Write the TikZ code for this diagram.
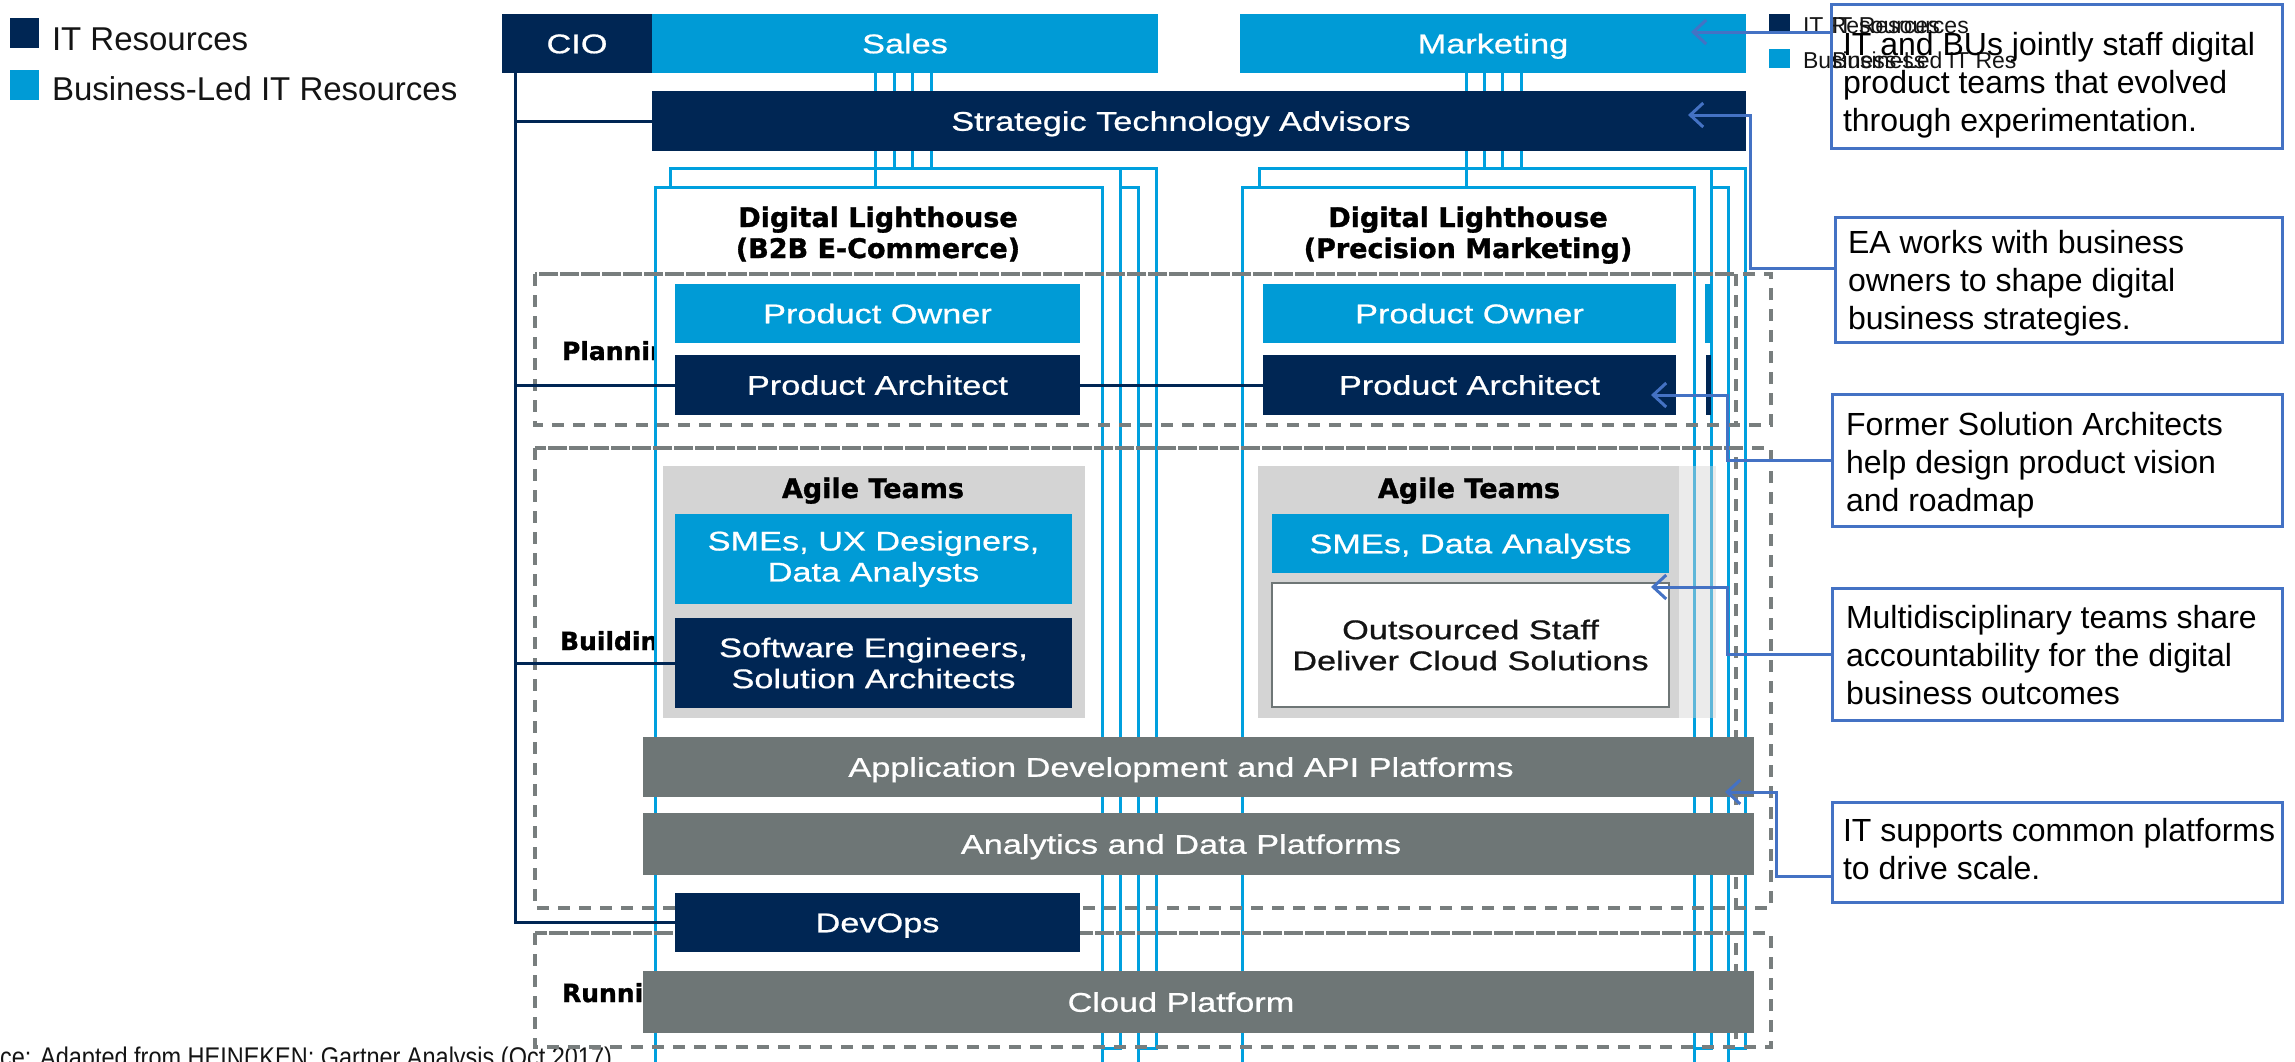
\documentclass[tikz,border=0pt]{standalone}
\usepackage{fontspec}
\setmainfont{Liberation Sans}
\newfontfamily\boxfnt[FakeStretch=1.27,FakeBold=0.7]{Liberation Sans}
\newfontfamily\hdfnt[BoldFeatures={FakeBold=1.2}]{DejaVu Sans}
\newfontfamily\srcfnt[FakeStretch=0.87]{Liberation Sans}
\usetikzlibrary{arrows.meta}
\definecolor{navy}{RGB}{0,38,84}
\definecolor{lblue}{RGB}{0,155,214}
\definecolor{lhblue}{RGB}{0,160,222}
\definecolor{platgray}{RGB}{110,118,118}
\definecolor{agilegray}{RGB}{212,212,212}
\definecolor{dashgray}{RGB}{120,126,126}
\definecolor{annoblue}{RGB}{68,114,196}
\definecolor{txtdark}{RGB}{20,20,20}
\tikzset{
 every node/.style={inner sep=0pt, outer sep=0pt},
 bx/.style={rectangle, draw=none, text=white, font=\boxfnt\fontsize{27}{31}\selectfont, align=center},
 navybox/.style={bx, fill=navy},
 bluebox/.style={bx, fill=lblue},
 platbox/.style={bx, fill=platgray},
 oneline/.style={text height=19.5pt, text depth=0pt},
 lhbox/.style={rectangle, draw=lhblue, line width=3pt, fill=white},
 lhline/.style={draw=lhblue, line width=3pt},
 sect/.style={draw=dashgray, line width=4pt, dash pattern=on 12pt off 9pt},
 seclabel/.style={font=\hdfnt\bfseries\fontsize{25}{29}\selectfont, text=black, anchor=base west},
 headtxt/.style={font=\hdfnt\bfseries\fontsize{27}{31}\selectfont, text=black, anchor=base},
 cioline/.style={draw=navy, line width=3pt},
 anno/.style={rectangle, draw=annoblue, line width=3pt},
 annotxt/.style={font=\fontsize{32}{38}\selectfont, text=black, align=left, anchor=north west},
 annoarrow/.style={draw=annoblue, line width=3pt, -{Straight Barb[length=13pt,width=24pt]}},
 legtxt/.style={font=\fontsize{33}{38}\selectfont, anchor=base west, text=txtdark},
 smalleg/.style={font=\fontsize{23}{27}\selectfont, anchor=base west, text=txtdark},
}
\begin{document}
\begin{tikzpicture}[x=1pt,y=-1pt]
\useasboundingbox (0,0) rectangle (2295,1061);
\clip (0,0) rectangle (2295,1061);
\fill[white] (0,0) rectangle (2295,1061);

% legend
\node[fill=navy, minimum width=29pt, minimum height=30pt] (lgsq1) at (24.5,33) {};
\node[fill=lblue, minimum width=29pt, minimum height=30pt] (lgsq2) at (24.5,85) {};
\node[legtxt] (lgt1) at (52,50) {IT Resources};
\node[legtxt] (lgt2) at (52,100) {Business-Led IT Resources};

% source
\node[font=\srcfnt\fontsize{27}{31}\selectfont, anchor=base east, text=txtdark] (src) at (612,1066) {Source: Adapted from HEINEKEN; Gartner Analysis (Oct 2017)};

% section labels (partly hidden by the lighthouse boxes)
\node[seclabel] (lplan) at (562,360) {Planning};
\node[seclabel] (lbuild) at (560,650) {Building};
\node[seclabel] (lrun) at (562,1002) {Running};

% lighthouse stacks
\node[lhbox, minimum width=486pt, minimum height=880pt] (lh1Bp) at (913,608) {};
\node[lhbox, minimum width=483pt, minimum height=888pt] (lh1Fp) at (896.5,631) {};
\node[lhbox, minimum width=450pt, minimum height=880pt] (lh1B) at (895,608) {};
\node[lhbox, minimum width=447pt, minimum height=888pt] (lh1F) at (878.5,631) {};

\node[lhbox, minimum width=486pt, minimum height=880pt] (lh2Bp) at (1502,608) {};
\node[lhbox, minimum width=486pt, minimum height=888pt] (lh2Fp) at (1485,631) {};
\node[lhbox, minimum width=452pt, minimum height=880pt] (lh2B) at (1485,608) {};
\node[lhbox, minimum width=452pt, minimum height=888pt] (lh2F) at (1468,631) {};

% slivers of hidden boxes
\fill[lblue] (1705,284) rectangle (1711,343);
\fill[navy] (1706,355) rectangle (1711,415);
\fill[agilegray, fill opacity=0.45] (1679,466) rectangle (1716,718);

% top boxes
\node[navybox, oneline, minimum width=150pt, minimum height=59pt] (cio) at (577,43.5) {CIO};
\node[bluebox, oneline, minimum width=506pt, minimum height=59pt] (sales) at (905,43.5) {Sales};
\node[bluebox, oneline, minimum width=506pt, minimum height=59pt] (marketing) at (1493,43.5) {Marketing};
\node[navybox, oneline, minimum width=1094pt, minimum height=60pt] (sta) at (1199,121) {\hspace*{-36pt}Strategic Technology Advisors};

% BU -> lighthouse lines
\foreach \dx in {-30,-11,7,26} {
  \draw[lhline] ([xshift=\dx pt]sales.south) -- ([xshift=\dx pt]sales.south |- sta.north);
}
\draw[lhline] ([xshift=-30pt]sales.south |- sta.south) -- ([xshift=-30pt]sales.south |- lh1F.north);
\foreach \dx in {-11,7,26} {
  \draw[lhline] ([xshift=\dx pt]sales.south |- sta.south) -- ([xshift=\dx pt]sales.south |- lh1B.north);
}
\foreach \dx in {-27,-9,9,28} {
  \draw[lhline] ([xshift=\dx pt]marketing.south) -- ([xshift=\dx pt]marketing.south |- sta.north);
}
\draw[lhline] ([xshift=-27pt]marketing.south |- sta.south) -- ([xshift=-27pt]marketing.south |- lh2F.north);
\foreach \dx in {-9,9,28} {
  \draw[lhline] ([xshift=\dx pt]marketing.south |- sta.south) -- ([xshift=\dx pt]marketing.south |- lh2B.north);
}

% dashed sections
\draw[sect] (535,274) rectangle (1771,425);
\draw[sect] (535,274) rectangle (1736,425);
\draw[sect] (535,448) rectangle (1771,908);
\draw[sect] (535,448) rectangle (1736,908);
\draw[sect] (535,933) rectangle (1771,1047);
\draw[sect] (535,933) rectangle (1736,1047);

% lighthouse titles
\node[headtxt] (lh1t1) at (878,227) {Digital Lighthouse};
\node[headtxt] (lh1t2) at (878,258) {(B2B E-Commerce)};
\node[headtxt] (lh2t1) at (1468,227) {Digital Lighthouse};
\node[headtxt] (lh2t2) at (1468,258) {(Precision Marketing)};

% planning boxes
\node[bluebox, oneline, minimum width=405pt, minimum height=59pt] (po1) at (877.5,313.5) {Product Owner};
\node[navybox, oneline, minimum width=405pt, minimum height=60pt] (pa1) at (877.5,385) {Product Architect};
\node[bluebox, oneline, minimum width=413pt, minimum height=59pt] (po2) at (1469.5,313.5) {Product Owner};
\node[navybox, oneline, minimum width=413pt, minimum height=60pt] (pa2) at (1469.5,385) {Product Architect};

% agile teams
\node[fill=agilegray, minimum width=422pt, minimum height=252pt] (agile1) at (874,592) {};
\node[headtxt] (ag1t) at (873,498) {Agile Teams};
\node[bluebox, minimum width=397pt, minimum height=90pt] (sme1) at (873.5,559) {SMEs, UX Designers,\\Data Analysts};
\node[navybox, minimum width=397pt, minimum height=90pt] (swe1) at (873.5,663) {Software Engineers,\\Solution Architects};

\node[fill=agilegray, minimum width=421pt, minimum height=252pt] (agile2) at (1468.5,592) {};
\node[headtxt] (ag2t) at (1469,498) {Agile Teams};
\node[bluebox, oneline, minimum width=397pt, minimum height=59pt] (sme2) at (1470.5,543.5) {SMEs, Data Analysts};
\node[bx, fill=white, draw=platgray, line width=2.5pt, text=txtdark, minimum width=397pt, minimum height=124pt] (out2) at (1470.5,645) {Outsourced Staff\\Deliver Cloud Solutions};

% platforms
\node[platbox, oneline, minimum width=1111pt, minimum height=60pt] (appdev) at (1198.5,767) {\hspace*{-35pt}Application Development and API Platforms};
\node[platbox, oneline, minimum width=1111pt, minimum height=62pt] (analytics) at (1198.5,844) {\hspace*{-35pt}Analytics and Data Platforms};
\node[navybox, oneline, minimum width=405pt, minimum height=59pt] (devops) at (877.5,922.5) {DevOps};
\node[platbox, oneline, minimum width=1111pt, minimum height=62pt] (cloud) at (1198.5,1002) {\hspace*{-35pt}Cloud Platform};

% CIO connectors
\coordinate (trunk) at ([xshift=-62pt]cio.south);
\draw[cioline] (trunk) |- (devops.west);
\draw[cioline] (trunk |- sta.west) -- (sta.west);
\draw[cioline] (trunk |- pa1.west) -- (pa1.west);
\draw[cioline] (trunk |- swe1.west) -- (swe1.west);
\draw[cioline] (pa1.east) -- (pa2.west);

% small duplicate legend
\node[fill=navy, minimum width=21pt, minimum height=19pt] (slg1) at (1779.5,23.5) {};
\node[fill=lblue, minimum width=21pt, minimum height=19pt] (slg2) at (1779.5,58.5) {};
\node[smalleg] (slt1) at (1803,33) {IT Resources};
\node[smalleg] (slt2) at (1832,33) {IT Resources};
\node[smalleg] (slt3) at (1803,68) {Business-Led IT Res};
\node[smalleg] (slt4) at (1832,68) {Business};

% annotation boxes
\node[anno, minimum width=451pt, minimum height=144pt] (box1) at (2056.5,76) {};
\node[anno, minimum width=447pt, minimum height=125pt] (box2) at (2058.5,279.5) {};
\node[anno, minimum width=450pt, minimum height=132pt] (box3) at (2057,460) {};
\node[anno, minimum width=450pt, minimum height=132pt] (box4) at (2057,654) {};
\node[anno, minimum width=450pt, minimum height=100pt] (box5) at (2057,852) {};

\node[annotxt] (tx1) at (1843,32) {IT and BUs jointly staff digital\\product teams that evolved\\through experimentation.};
\node[annotxt] (tx2) at (1848,230) {EA works with business\\owners to shape digital\\business strategies.};
\node[annotxt] (tx3) at (1846,412) {Former Solution Architects\\help design product vision\\and roadmap};
\node[annotxt] (tx4) at (1846,605) {Multidisciplinary teams share\\accountability for the digital\\business outcomes};
\node[annotxt] (tx5) at (1843,818) {IT supports common platforms\\to drive scale.};

% annotation arrows
\coordinate (t1) at (1691,32);
\coordinate (c2) at (1750,115);
\coordinate (t2) at (1688,115);
\coordinate (c3) at (1727,395);
\coordinate (t3) at (1651,395);
\coordinate (c4) at (1727,587);
\coordinate (t4) at (1651,587);
\coordinate (c5) at (1776,792);
\coordinate (t5) at (1725,792);
\draw[annoarrow] ([yshift=-28pt]box1.north west) -- (t1);
\draw[annoarrow] ([yshift=11.5pt]box2.west) -| (c2) -- (t2);
\draw[annoarrow] (box3.west) -| (c3) -- (t3);
\draw[annoarrow] (box4.west) -| (c4) -- (t4);
\draw[annoarrow] ([yshift=-24pt]box5.west) -| (c5) -- (t5);
\end{tikzpicture}
\end{document}
